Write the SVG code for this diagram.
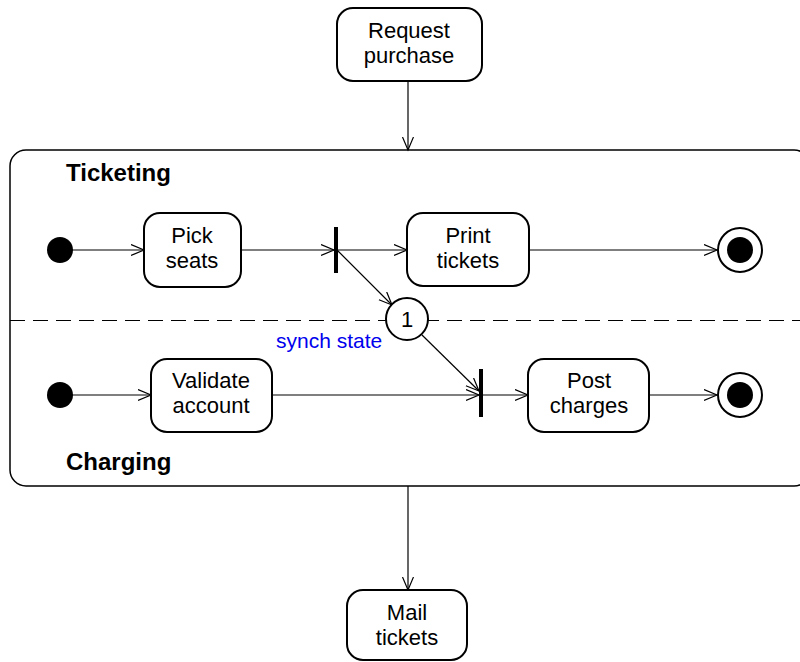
<svg xmlns="http://www.w3.org/2000/svg" width="800" height="662" viewBox="0 0 800 662">
<style>
.node rect{fill:#fff;stroke:#000;stroke-width:2}
.t{font-family:"Liberation Sans",Arial,sans-serif;font-size:22px;fill:#000;text-anchor:middle}
.b{font-family:"Liberation Sans",Arial,sans-serif;font-size:24px;font-weight:bold;fill:#000}
.e{stroke:#000;stroke-width:1.2;fill:none}
</style>
<defs>
<marker id="a" markerUnits="userSpaceOnUse" markerWidth="16" markerHeight="14" refX="13" refY="6" orient="auto">
<path d="M0,0.5 L13,6 L0,11.5" fill="none" stroke="#000" stroke-width="1.2"/>
</marker>
</defs>
<g id="container">
<rect x="10" y="150" width="800" height="336" rx="16" fill="none" stroke="#000" stroke-width="1.5"/>
<line x1="10" y1="320.5" x2="800" y2="320.5" stroke="#000" stroke-width="1" stroke-dasharray="15,8"/>
<text class="b" x="66" y="181">Ticketing</text>
<text class="b" x="66" y="470">Charging</text>
</g>
<g id="connectors">
<line class="e" x1="408" y1="81" x2="408" y2="150" marker-end="url(#a)"/>
<line class="e" x1="72" y1="250" x2="144" y2="250" marker-end="url(#a)"/>
<line class="e" x1="242" y1="250" x2="334" y2="250" marker-end="url(#a)"/>
<line class="e" x1="337" y1="250" x2="407" y2="250" marker-end="url(#a)"/>
<line class="e" x1="529" y1="250" x2="717" y2="250" marker-end="url(#a)"/>
<line class="e" x1="337" y1="250" x2="392" y2="305" marker-end="url(#a)"/>
<line class="e" x1="422" y1="335" x2="479" y2="391" marker-end="url(#a)"/>
<line class="e" x1="72" y1="395" x2="151" y2="395" marker-end="url(#a)"/>
<line class="e" x1="272" y1="395" x2="479" y2="395" marker-end="url(#a)"/>
<line class="e" x1="483" y1="395" x2="528" y2="395" marker-end="url(#a)"/>
<line class="e" x1="649" y1="395" x2="717" y2="395" marker-end="url(#a)"/>
<line class="e" x1="408" y1="486" x2="408" y2="590" marker-end="url(#a)"/>
</g>
<g id="request" class="node"><rect x="337" y="8" width="145" height="73" rx="16"/><text class="t" x="409" y="38">Request</text><text class="t" x="409" y="63">purchase</text></g>
<g id="init1"><circle cx="60" cy="250" r="13" fill="#000"/></g>
<g id="pick" class="node"><rect x="144" y="213" width="97" height="74" rx="16"/><text class="t" x="192" y="243">Pick</text><text class="t" x="192" y="268">seats</text></g>
<g id="fork1"><rect x="334" y="227" width="4" height="46" fill="#000"/></g>
<g id="print" class="node"><rect x="407" y="213" width="122" height="73" rx="16"/><text class="t" x="468" y="243">Print</text><text class="t" x="468" y="268">tickets</text></g>
<g id="final1"><circle cx="740" cy="250" r="22" fill="#fff" stroke="#000" stroke-width="2"/><circle cx="740" cy="250" r="13" fill="#000"/></g>
<g id="synch"><circle cx="407" cy="319" r="21" fill="#fff" stroke="#000" stroke-width="2"/><text class="t" x="407" y="327">1</text><text x="276" y="348" font-family="Liberation Sans,Arial,sans-serif" font-size="21" fill="#0000ee">synch state</text></g>
<g id="init2"><circle cx="60" cy="395" r="13" fill="#000"/></g>
<g id="validate" class="node"><rect x="151" y="359" width="121" height="73" rx="16"/><text class="t" x="211" y="388">Validate</text><text class="t" x="211" y="413">account</text></g>
<g id="join"><rect x="479" y="369" width="4" height="48" fill="#000"/></g>
<g id="post" class="node"><rect x="528" y="359" width="121" height="73" rx="16"/><text class="t" x="589" y="388">Post</text><text class="t" x="589" y="413">charges</text></g>
<g id="final2"><circle cx="740" cy="395" r="22" fill="#fff" stroke="#000" stroke-width="2"/><circle cx="740" cy="395" r="13" fill="#000"/></g>
<g id="mail" class="node"><rect x="347" y="590" width="120" height="70" rx="16"/><text class="t" x="407" y="620">Mail</text><text class="t" x="407" y="645">tickets</text></g>
</svg>
